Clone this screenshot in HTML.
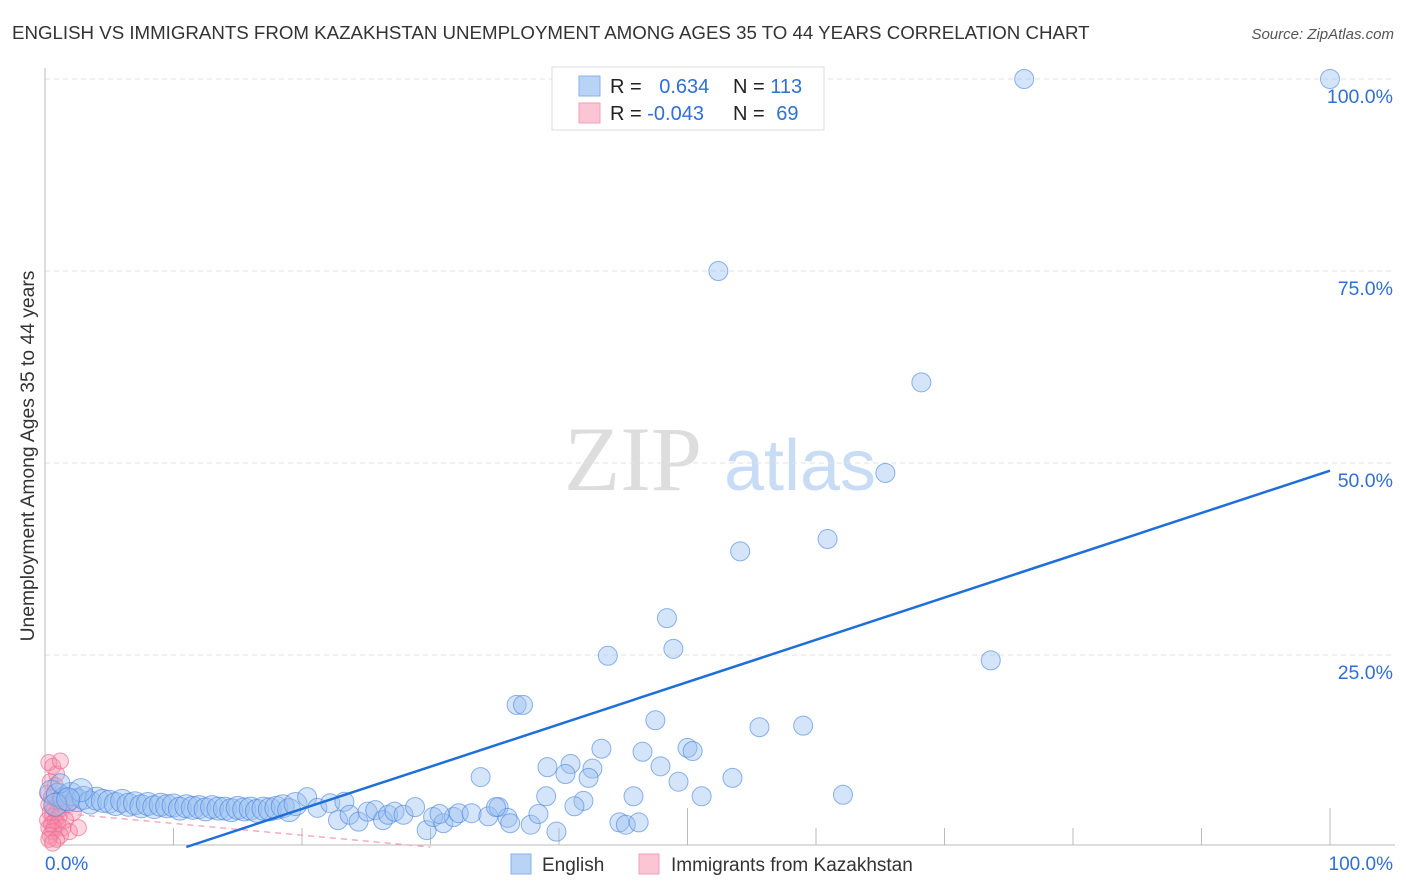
<!DOCTYPE html>
<html><head><meta charset="utf-8"><style>
body{margin:0;background:#fff;font-family:"Liberation Sans",sans-serif;}
#wrap{position:relative;width:1406px;height:892px;overflow:hidden;}
</style></head><body>
<div id="wrap">
<svg id="chart" width="1406" height="892">
<text x="12" y="39" font-size="18.7" fill="#333">ENGLISH VS IMMIGRANTS FROM KAZAKHSTAN UNEMPLOYMENT AMONG AGES 35 TO 44 YEARS CORRELATION CHART</text>
<text x="1394" y="39" font-size="15" fill="#555" font-style="italic" text-anchor="end">Source: ZipAtlas.com</text>
<text x="633" y="490" font-size="92" fill="#ddd" font-family="Liberation Serif,serif" text-anchor="middle">ZIP</text>
<text x="800" y="490" font-size="72" fill="#c9dcf5" text-anchor="middle">atlas</text>
<text transform="translate(34,456) rotate(-90)" font-size="19.3" fill="#333" text-anchor="middle">Unemployment Among Ages 35 to 44 years</text>
<g id="grid"></g><g id="marks"></g>
<rect x="552" y="67" width="272" height="63" fill="#fff" stroke="#ddd"/>
<rect x="579" y="76" width="21" height="20" fill="#b8d3f5" stroke="#88b0e8"/>
<rect x="579" y="103" width="21" height="20" fill="#fbc5d4" stroke="#f2a0b8"/>
<text x="610" y="93" font-size="20" fill="#222">R = <tspan fill="#2f6fd6" dx="12">0.634</tspan></text>
<text x="733" y="93" font-size="20" fill="#222">N = <tspan fill="#2f6fd6">113</tspan></text>
<text x="610" y="120" font-size="20" fill="#222">R = <tspan fill="#2f6fd6">-0.043</tspan></text>
<text x="733" y="120" font-size="20" fill="#222">N = <tspan fill="#2f6fd6" dx="6">69</tspan></text>
<rect x="511" y="854" width="20" height="20" fill="#b8d3f5" stroke="#88b0e8"/>
<text x="542" y="871" font-size="19" fill="#333">English</text>
<rect x="639" y="854" width="20" height="20" fill="#fbc5d4" stroke="#f2a0b8"/>
<text x="671" y="871" font-size="19" fill="#333">Immigrants from Kazakhstan</text>
<text x="45" y="870" font-size="19" fill="#2f6fd6">0.0%</text>
<text x="1393" y="870" font-size="19" fill="#2f6fd6" text-anchor="end">100.0%</text>
</svg></div>
<script>
const yTicks=[25,50,75,100];
const yTickLabels=["25.0%","50.0%","75.0%","100.0%"];
const englishX=[0.5,1,1.5,2,2.5,3,3.5,4,4.5,5,5.5,6,6.5,7,7.5,8,8.5,9,9.5,10,10.5,11,11.5,12,12.5,13,13.5,14,14.5,15,15.5,16,16.5,17,17.5,18,18.5,19,19.5,20.4,21.2,22.2,23.3,22.8,23.7,24.4,25.1,25.7,26.3,26.7,27.2,27.9,28.8,29.7,30.2,31,31.8,30.7,32.2,33.2,34.5,35.3,36,36.2,37.8,38.4,39.8,44.7,45.2,46.2,76.2,100,52.4,68.2,65.4,60.9,54.1,48.4,48.9,43.8,73.6,36.7,37.2,47.5,55.6,59,43.3,46.5,50,50.4,40.9,39.1,42.6,40.5,47.9,42.3,33.9,49.3,53.5,39,45.8,51.1,62.1,41.9,41.2,35.1,1.2,2.8,0.8,1.8];
const englishY=[7.2,6.8,6.3,6.9,6.1,6.4,5.8,6.3,6,5.9,5.6,6,5.5,5.7,5.3,5.6,5.2,5.5,5.3,5.4,5,5.3,5.1,5.2,4.9,5.2,5,5,4.8,5.1,4.9,5,4.7,5,4.9,5.1,5.3,4.8,5.6,6.5,5.1,5.7,5.9,3.5,4.2,3.3,4.6,4.8,3.5,4.2,4.6,4.2,5.2,2.2,3.9,3.1,3.9,4.3,4.4,4.4,4,5.2,3.8,3.1,2.9,4.3,2,3.2,2.9,3.2,100,100,75,60.5,48.7,40.1,38.5,29.8,25.8,24.9,24.3,18.5,18.5,16.5,15.6,15.8,12.8,12.4,12.9,12.5,10.8,10.4,10.2,9.5,10.5,9,9.1,8.5,9,6.6,6.6,6.6,6.8,6,5.3,5.2,8.3,7.4,5.5,6.2];
const kazX=[0.3,0.6,0.9,1.2,0.4,0.8,1.5,0.2,0.5,1.0,1.8,0.3,0.7,1.3,0.4,0.9,2.2,0.6,1.1,0.2,0.8,1.6,0.5,1.0,0.3,0.7,1.4,0.6,1.9,0.4,1.2,0.9,0.3,0.6,2.6,1.1];
const kazY=[11,10.5,9.5,11.2,8.5,8,6.5,7,6.5,6,5.5,5.5,5,5,4.5,4.5,4.5,4,4,3.5,3.5,3.5,3,3,2.5,2.5,2.5,2,2,1.5,1.5,1,1,0.5,2.5,6];
const engLine=[[11,0],[100,49]];
const kazLine=[[0,4.6],[30,0]];
const X0=45,X1=1330,Y0=847,Y1=79;
const sx=v=>X0+(X1-X0)*v/100, sy=v=>Y0-(Y0-Y1)*v/100;
const NS="http://www.w3.org/2000/svg";
function mk(t,a,p){const e=document.createElementNS(NS,t);for(const k in a)e.setAttribute(k,a[k]);p.appendChild(e);return e;}
const g=document.getElementById('grid'),m=document.getElementById('marks');
yTicks.forEach((t,i)=>{
 const l=mk('line',{x1:X0,x2:1395,y1:sy(t),y2:sy(t),stroke:'#e2e2e2','stroke-dasharray':'5,4'},g);
 
 
 const tx=mk('text',{x:1393,y:sy(t)+24,'font-size':19.5,fill:'#2f6fd6','text-anchor':'end'},g);
 tx.textContent=yTickLabels[i];
 
 
});
const ax=mk('line',{x1:X0,x2:X0,y1:68,y2:845,stroke:'#bbb'},g);


const bx=mk('line',{x1:X0,x2:1395,y1:845,y2:845,stroke:'#bbb'},g);


for(let i=1;i<=10;i++){const x=sx(i*10);const tk=mk('line',{x1:x,x2:x,y1:(i%5==0?808:828),y2:845,stroke:'#bbb'},g);
 
 }
kazX.forEach((v,i)=>{const c=mk('circle',{cx:sx(v),cy:sy(kazY[i]),r:8,fill:'rgba(246,140,170,0.35)',stroke:'rgba(240,110,150,0.7)'},m);
 
 });
const kl=mk('line',{x1:sx(kazLine[0][0]),y1:sy(kazLine[0][1]),x2:sx(kazLine[1][0]),y2:sy(kazLine[1][1]),stroke:'#f0a0b8','stroke-width':1.3,'stroke-dasharray':'6,5'},m);


englishX.forEach((v,i)=>{const c=mk('circle',{cx:sx(v),cy:sy(englishY[i]),r:(v<20&&englishY[i]<8?11.5:9.5),fill:'rgba(150,190,240,0.4)',stroke:'rgba(70,130,220,0.6)'},m);
 
 });
const el=mk('line',{x1:sx(engLine[0][0]),y1:sy(engLine[0][1]),x2:sx(engLine[1][0]),y2:sy(engLine[1][1]),stroke:'#1f6fd8','stroke-width':2.5},m);


</script>
</body></html>
